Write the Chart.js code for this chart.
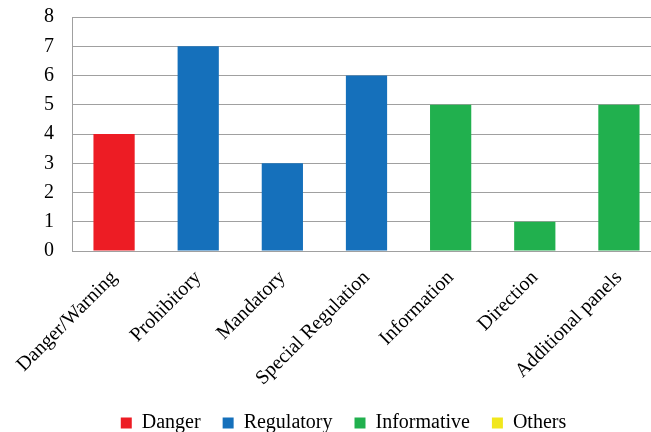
<!DOCTYPE html>
<html>
<head>
<meta charset="utf-8">
<script src="https://cdn.jsdelivr.net/npm/chart.js@4"></script>
<style>
  html, body { margin: 0; padding: 0; background: #fff; overflow: hidden; }
  #wrap { width: 661px; height: 445px; margin-top: -13px; position: relative; }
</style>
</head>
<body>
<div id="wrap"><canvas id="c"></canvas></div>
<script>
const categories = ['Danger/Warning', 'Prohibitory', 'Mandatory', 'Special Regulation', 'Information', 'Direction', 'Additional panels']
const danger = [4, null, null, null, null, null, null]
const regulatory = [null, 7, 3, 6, null, null, null]
const informative = [null, null, null, null, 5, 1, 5]
const others = [null, null, null, null, null, null, null]
const yTicks = [0, 1, 2, 3, 4, 5, 6, 7, 8]

const font = 'Liberation Serif, Times New Roman, serif'

function ds(label, data, color) {
    return {
        label: label,
        data: data,
        backgroundColor: color,
        barPercentage: 0.49,
        categoryPercentage: 1.0
    }
}

const ctx = document.getElementById('c').getContext('2d')
const chart = new Chart(ctx, {
    type: 'bar',
    data: {
        labels: categories,
        datasets: [
            ds('Danger', danger, '#ed1c24'),
            ds('Regulatory', regulatory, '#1570bb'),
            ds('Informative', informative, '#21b04e'),
            ds('Others', others, '#f1e71c')
        ]
    },
    options: {
        responsive: true,
        maintainAspectRatio: false,
        animation: false,
        layout: { padding: { top: 0, right: 0, left: 26, bottom: -11 } },
        scales: {
            x: {
                stacked: true,
                grid: { display: false },
                border: { color: '#a0a0a0' },
                afterFit: function(axis) { axis.height = 140 },
                ticks: {
                    maxRotation: 45,
                    minRotation: 45,
                    autoSkip: false,
                    color: '#000',
                    padding: 7,
                    font: { family: font, size: 20 }
                }
            },
            y: {
                stacked: true,
                min: 0,
                max: 8,
                afterBuildTicks: function(axis) {
                    axis.ticks = yTicks.map(v => ({ value: v }))
                },
                afterFit: function(axis) { axis.width = 46 },
                grid: { color: '#a0a0a0', drawTicks: false },
                border: { color: '#a0a0a0' },
                ticks: {
                    autoSkip: false,
                    color: '#000',
                    padding: 18,
                    font: { family: font, size: 20 }
                }
            }
        },
        plugins: {
            legend: {
                position: 'bottom',
                labels: {
                    boxWidth: 11,
                    boxHeight: 11,
                    padding: 22,
                    color: '#000',
                    font: { family: font, size: 20 }
                }
            },
            tooltip: { enabled: false }
        }
    }
})
</script>
</body>
</html>
